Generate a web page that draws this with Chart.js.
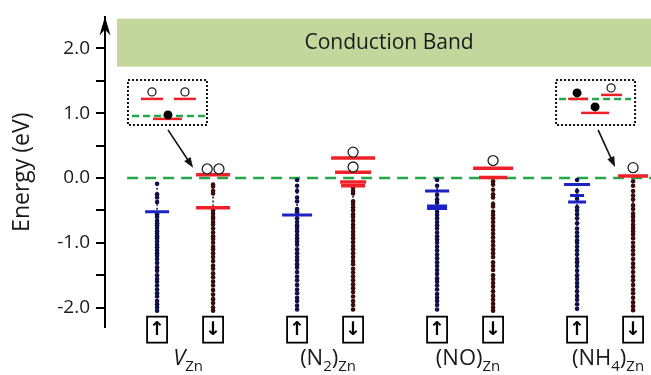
<!DOCTYPE html>
<html>
<head>
<meta charset="utf-8">
<script src="https://cdn.jsdelivr.net/npm/chart.js@4.4.0/dist/chart.umd.min.js"></script>
<style>
  html, body { margin: 0; padding: 0; background: #fff; }
  canvas { display: block; }
</style>
</head>
<body>
<canvas id="chart" width="651" height="375"></canvas>
<script>
// defects, each with a spin-up and a spin-down column of Kohn-Sham states
const categories = [
    [{ t: 'V', italic: true }, { t: 'Zn', sub: true }],
    [{ t: '(N' }, { t: '2', sub: true }, { t: ')' }, { t: 'Zn', sub: true }],
    [{ t: '(NO)' }, { t: 'Zn', sub: true }],
    [{ t: '(NH' }, { t: '4', sub: true }, { t: ')' }, { t: 'Zn', sub: true }]
];

const yTicks = [-2.0, -1.0, 0.0, 1.0, 2.0];

// valence states (eV)
const vznUp = [-0.09, -0.25, -0.3, -0.37, -0.56, -0.6, -0.66, -0.7, -0.73, -0.77, -0.82, -0.86, -0.9, -0.93, -0.98, -1.03, -1.07, -1.12, -1.16, -1.2, -1.25, -1.31, -1.38, -1.43, -1.5, -1.56, -1.6, -1.66, -1.72, -1.78, -1.83, -1.9, -1.95, -2.0, -2.05];
const vznDown = [-0.1, -0.13, -0.2, -0.24, -0.5, -0.55, -0.6, -0.63, -0.68, -0.72, -0.78, -0.84, -0.9, -0.94, -1.0, -1.06, -1.1, -1.16, -1.22, -1.28, -1.35, -1.4, -1.47, -1.53, -1.6, -1.66, -1.73, -1.8, -1.87, -1.93, -2.0, -2.05];
const n2Up = [-0.03, -0.12, -0.2, -0.3, -0.36, -0.48, -0.5, -0.53, -0.62, -0.68, -0.73, -0.77, -0.82, -0.88, -0.93, -0.98, -1.03, -1.1, -1.16, -1.22, -1.27, -1.33, -1.38, -1.45, -1.52, -1.58, -1.65, -1.72, -1.78, -1.85, -1.9, -1.97, -2.03];
const n2Down = [-0.15, -0.2, -0.24, -0.36, -0.4, -0.45, -0.5, -0.56, -0.6, -0.66, -0.72, -0.77, -0.83, -0.88, -0.93, -0.99, -1.05, -1.1, -1.16, -1.22, -1.28, -1.33, -1.4, -1.46, -1.52, -1.58, -1.64, -1.7, -1.76, -1.83, -1.9, -1.96, -2.03];
const noUp = [-0.03, -0.12, -0.26, -0.33, -0.38, -0.52, -0.57, -0.62, -0.68, -0.73, -0.78, -0.84, -0.9, -0.95, -1.0, -1.06, -1.12, -1.18, -1.24, -1.3, -1.36, -1.42, -1.48, -1.55, -1.6, -1.66, -1.72, -1.79, -1.85, -1.9, -1.96, -2.03];
const noDown = [-0.05, -0.1, -0.18, -0.25, -0.3, -0.4, -0.44, -0.52, -0.57, -0.62, -0.68, -0.74, -0.8, -0.86, -0.92, -0.98, -1.04, -1.1, -1.16, -1.22, -1.3, -1.36, -1.42, -1.5, -1.56, -1.62, -1.68, -1.75, -1.82, -1.88, -1.94, -2.0, -2.05];
const nh4Up = [-0.03, -0.2, -0.32, -0.45, -0.5, -0.56, -0.62, -0.7, -0.78, -0.84, -0.9, -0.96, -1.0, -1.06, -1.12, -1.18, -1.25, -1.3, -1.36, -1.43, -1.5, -1.56, -1.62, -1.68, -1.75, -1.82, -1.88, -1.95, -2.02];
const nh4Down = [-0.05, -0.12, -0.2, -0.27, -0.33, -0.42, -0.48, -0.55, -0.6, -0.66, -0.72, -0.77, -0.82, -0.87, -0.93, -1.0, -1.06, -1.12, -1.18, -1.25, -1.32, -1.38, -1.45, -1.52, -1.58, -1.65, -1.72, -1.78, -1.85, -1.92, -1.98, -2.04];

// defect levels (eV): blue = spin up, red = spin down
const upLevels = [[-0.52], [-0.57], [-0.2, -0.43, -0.47], [-0.1, -0.27, -0.37]];
const downLevels = [[0.05, -0.46], [0.31, 0.09, -0.06, -0.12], [0.15, 0.01], [0.03]];
// unoccupied levels (holes), drawn as open circles
const holes = [[0.14, 0.14], [0.4, 0.17], [0.27], [0.16]];

const fermiLevel = 0.0;
const cbBottom = 1.72;
const cbTop = 2.46;

// ---- layout / style ----
const upStates = [vznUp, n2Up, noUp, nh4Up];
const downStates = [vznDown, n2Down, noDown, nh4Down];
const groupStep = 5, pairStep = 2;
const upX = i => i * groupStep;
const downX = i => i * groupStep + pairStep;
const upHalf = [[12], [15], [12, 10, 10], [13, 7, 9]];
const downHalf = [[17, 17], [22, 18, 13, 12], [20, 14], [15]];
const RED = '#f0202a', BLUE = '#1c22c4', GREEN = '#1fa84a';
const FONT = '"Open Sans", "Liberation Sans", sans-serif';

const datasets = [];

datasets.push({
    data: [{ x: -1.07, y: fermiLevel }, { x: 17.64, y: fermiLevel }],
    showLine: true, borderColor: GREEN, borderWidth: 2.5, borderDash: [11, 7],
    pointRadius: 0, order: 6
});

categories.forEach((c, i) => {
    datasets.push({
        data: upStates[i].map(e => ({ x: upX(i), y: e })),
        showLine: true, borderColor: '#101040', borderWidth: 1.5, borderDash: [2, 2],
        pointRadius: 2.3, pointBackgroundColor: '#10104a', pointBorderWidth: 0, order: 5
    });
    datasets.push({
        data: downStates[i].map(e => ({ x: downX(i), y: e })),
        showLine: true, borderColor: '#2a0a0a', borderWidth: 1.5, borderDash: [2, 2],
        pointRadius: 2.3, pointBackgroundColor: '#3a0c0c', pointBorderWidth: 0, order: 5
    });
    datasets.push({
        data: upLevels[i].map(e => ({ x: upX(i), y: e })),
        pointStyle: 'line', pointRadius: ctx => upHalf[i][ctx.dataIndex],
        pointBorderColor: BLUE, pointBorderWidth: 3, order: 3
    });
    datasets.push({
        data: downLevels[i].map(e => ({ x: downX(i), y: e })),
        pointStyle: 'line', pointRadius: ctx => downHalf[i][ctx.dataIndex],
        pointBorderColor: RED, pointBorderWidth: 3.5, order: 2
    });
    // holes sharing an energy sit side by side
    const hs = holes[i];
    datasets.push({
        data: hs.map((e, k) => {
            const same = hs.filter(v => v === e).length;
            const rank = hs.slice(0, k).filter(v => v === e).length;
            return { x: downX(i) + (rank - (same - 1) / 2) * 0.42, y: e };
        }),
        pointStyle: 'circle', pointRadius: 5, pointBackgroundColor: '#fff',
        pointBorderColor: '#222', pointBorderWidth: 1.3, order: 1
    });
});

function arrow(ctx, x1, y1, x2, y2) {
    const a = Math.atan2(y2 - y1, x2 - x1);
    ctx.beginPath();
    ctx.moveTo(x1, y1);
    ctx.lineTo(x2 - 6 * Math.cos(a), y2 - 6 * Math.sin(a));
    ctx.stroke();
    ctx.beginPath();
    ctx.moveTo(x2, y2);
    ctx.lineTo(x2 - 11 * Math.cos(a - 0.35), y2 - 11 * Math.sin(a - 0.35));
    ctx.lineTo(x2 - 11 * Math.cos(a + 0.35), y2 - 11 * Math.sin(a + 0.35));
    ctx.closePath();
    ctx.fill();
}

function hline(ctx, x1, x2, y, color, dash) {
    ctx.save();
    ctx.strokeStyle = color;
    ctx.lineWidth = 2.5;
    if (dash) ctx.setLineDash(dash);
    ctx.beginPath();
    ctx.moveTo(x1, y);
    ctx.lineTo(x2, y);
    ctx.stroke();
    ctx.restore();
}

function dot(ctx, x, y, r, filled) {
    ctx.beginPath();
    ctx.arc(x, y, r, 0, Math.PI * 2);
    ctx.fillStyle = filled ? '#000' : '#fff';
    ctx.fill();
    if (!filled) {
        ctx.lineWidth = 1.3;
        ctx.strokeStyle = '#222';
        ctx.stroke();
    }
}

function inset(ctx, ox, oy, parts) {
    ctx.save();
    ctx.strokeStyle = '#111';
    ctx.lineWidth = 2;
    ctx.setLineDash([2, 2]);
    ctx.strokeRect(ox, oy, 79, 45);
    ctx.restore();
    parts(ox, oy);
}

function drawLabel(ctx, parts, cx, baseY) {
    const fonts = parts.map(p => (p.italic ? 'italic ' : '') + (p.sub ? '15px ' : '22px ') + FONT);
    let w = 0;
    parts.forEach((p, k) => { ctx.font = fonts[k]; w += ctx.measureText(p.t).width; });
    let x = cx - w / 2;
    ctx.textAlign = 'left';
    ctx.textBaseline = 'alphabetic';
    parts.forEach((p, k) => {
        ctx.font = fonts[k];
        ctx.fillText(p.t, x, p.sub ? baseY + 6 : baseY);
        x += ctx.measureText(p.t).width;
    });
}

const decor = {
    id: 'decor',
    beforeDatasetsDraw(chart) {
        const { ctx, chartArea: a, scales: { x, y } } = chart;
        const top = y.getPixelForValue(cbTop), bot = y.getPixelForValue(cbBottom);
        const left = x.getPixelForValue(-1.43);
        ctx.save();
        ctx.fillStyle = '#c3d69b';
        ctx.fillRect(left, top, a.right - left, bot - top);
        ctx.fillStyle = '#1a1a1a';
        ctx.font = '21px ' + FONT;
        ctx.textAlign = 'center';
        ctx.textBaseline = 'middle';
        ctx.fillText('Conduction Band', (left + a.right) / 2 + 5, (top + bot) / 2);
        ctx.restore();
    },
    afterDraw(chart) {
        const { ctx, chartArea: a, scales: { x, y } } = chart;
        ctx.save();

        // arrowhead on the energy axis
        ctx.fillStyle = '#000';
        ctx.beginPath();
        ctx.moveTo(a.left, a.top - 1);
        ctx.lineTo(a.left - 5.5, a.top + 18);
        ctx.lineTo(a.left, a.top + 12);
        ctx.lineTo(a.left + 5.5, a.top + 18);
        ctx.closePath();
        ctx.fill();

        // spin boxes and defect names
        categories.forEach((c, i) => {
            [upX(i), downX(i)].forEach((xv, s) => {
                const px = x.getPixelForValue(xv);
                const py = y.getPixelForValue(-2.14);
                ctx.strokeStyle = '#000';
                ctx.lineWidth = 1.8;
                ctx.strokeRect(px - 10, py, 20, 26);
                ctx.fillStyle = '#000';
                ctx.font = 'bold 19px "DejaVu Sans"';
                ctx.textAlign = 'center';
                ctx.textBaseline = 'middle';
                ctx.fillText(s === 0 ? '↑' : '↓', px, py + 13);
            });
            ctx.fillStyle = '#1a1a1a';
            drawLabel(ctx, c, (x.getPixelForValue(upX(i)) + x.getPixelForValue(downX(i))) / 2 + 3, 365);
        });

        // left inset: V_Zn levels
        const lx = x.getPixelForValue(-1.04), ly = y.getPixelForValue(1.515);
        inset(ctx, lx, ly, (ox, oy) => {
            hline(ctx, ox + 13, ox + 35, oy + 19, RED);
            hline(ctx, ox + 46, ox + 68, oy + 19, RED);
            dot(ctx, ox + 24, oy + 12, 4, false);
            dot(ctx, ox + 57, oy + 12, 4, false);
            hline(ctx, ox + 4, ox + 77, oy + 36, GREEN, [7, 4]);
            hline(ctx, ox + 25, ox + 54, oy + 39, RED);
            dot(ctx, ox + 40, oy + 35, 4.5, true);
        });
        ctx.strokeStyle = '#111';
        ctx.fillStyle = '#111';
        ctx.lineWidth = 1.6;
        arrow(ctx, lx + 40, ly + 50, x.getPixelForValue(downX(0)) - 20, y.getPixelForValue(downLevels[0][0]) - 7);

        // right inset: (NH4)_Zn levels
        const rx = x.getPixelForValue(14.25), ry = y.getPixelForValue(1.515);
        inset(ctx, rx, ry, (ox, oy) => {
            hline(ctx, ox + 3, ox + 75, oy + 19, GREEN, [7, 4]);
            hline(ctx, ox + 12, ox + 32, oy + 19, RED);
            dot(ctx, ox + 21, oy + 13, 4.5, true);
            hline(ctx, ox + 45, ox + 66, oy + 15, RED);
            dot(ctx, ox + 55, oy + 8, 4, false);
            hline(ctx, ox + 25, ox + 53, oy + 33, RED);
            dot(ctx, ox + 39, oy + 27, 4.5, true);
        });
        ctx.strokeStyle = '#111';
        ctx.fillStyle = '#111';
        ctx.lineWidth = 1.6;
        arrow(ctx, rx + 42, ry + 50, x.getPixelForValue(downX(3)) - 18, y.getPixelForValue(downLevels[3][0]) - 9);

        ctx.restore();
    }
};

new Chart(document.getElementById('chart'), {
    type: 'scatter',
    data: { datasets: datasets },
    options: {
        responsive: false,
        animation: false,
        layout: { autoPadding: false, padding: { top: 15, bottom: 48, left: 0, right: 0 } },
        plugins: { legend: { display: false }, tooltip: { enabled: false } },
        scales: {
            x: { type: 'linear', min: -1.86, max: 17.64, display: false },
            y: {
                min: -2.3,
                max: 2.48,
                afterFit(s) { s.width = 105; },
                border: { display: true, color: '#000', width: 2 },
                grid: { drawOnChartArea: false, drawTicks: true, tickLength: 9, color: '#000', lineWidth: 2 },
                ticks: {
                    stepSize: 0.5,
                    includeBounds: false,
                    padding: 6,
                    color: '#1a1a1a',
                    font: { family: FONT, size: 19 },
                    callback: v => yTicks.some(t => Math.abs(t - v) < 1e-6) ? v.toFixed(1) : ''
                },
                title: {
                    display: true, text: 'Energy (eV)', color: '#1a1a1a',
                    font: { family: FONT, size: 23 }, padding: { top: 9, bottom: 0 }
                }
            }
        }
    },
    plugins: [decor]
});
</script>
</body>
</html>
